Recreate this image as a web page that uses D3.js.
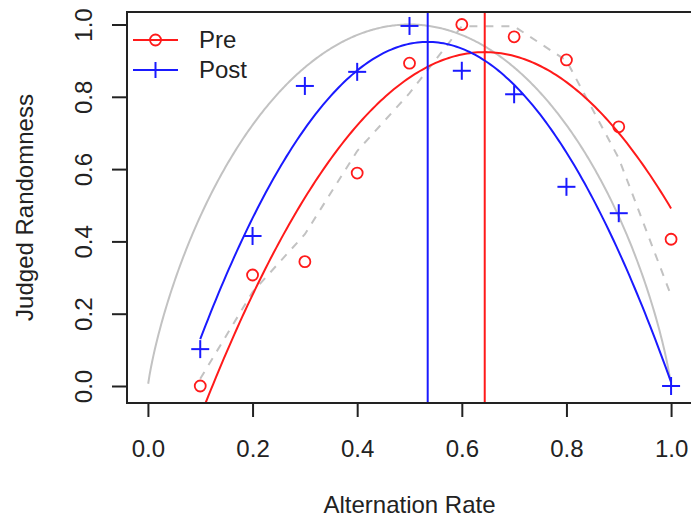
<!DOCTYPE html>
<html>
<head>
<meta charset="utf-8">
<script src="https://cdn.jsdelivr.net/npm/d3@7"></script>
<style>
  html, body { margin: 0; padding: 0; background: #fff; }
  svg { display: block; font-family: "Liberation Sans", Arial, sans-serif; }
</style>
</head>
<body>
<svg id="chart" width="691" height="518"></svg>
<script>
// ---- data ----
const alternationRates = [0.1, 0.2, 0.3, 0.4, 0.5, 0.6, 0.7, 0.8, 0.9, 1.0];
const preValues  = [0.000, 0.307, 0.344, 0.589, 0.893, 1.000, 0.966, 0.902, 0.717, 0.406];
const postValues = [0.102, 0.415, 0.830, 0.869, 0.996, 0.872, 0.807, 0.551, 0.478, 0.000];
const referenceValues = [0.02, 0.26, 0.42, 0.65, 0.81, 0.995, 0.995, 0.90, 0.63, 0.25]; // grey dashed
const xTicks = [0.0, 0.2, 0.4, 0.6, 0.8, 1.0];
const yTicks = [0.0, 0.2, 0.4, 0.6, 0.8, 1.0];
const seriesNames = ["Pre", "Post"];
const seriesColors = ["#ff1a1a", "#1a1aff"];
const xTitle = "Alternation Rate";
const yTitle = "Judged Randomness";

// ---- layout ----
const svg = d3.select("#chart");
const plot = { left: 127, right: 692, top: 12, bottom: 403 };
const x = d3.scaleLinear().domain([-0.04, 1.04]).range([plot.left, plot.right]);
const y = d3.scaleLinear().domain([0, 1]).range([386, 24.5]);
const fmt = d3.format(".1f");
const axisColor = "#222";
const fontSize = 24;

// quadratic least-squares fit
function quadFit(xs, ys) {
  const n = xs.length;
  let S = [0,0,0,0,0], T = [0,0,0];
  for (let i = 0; i < n; i++) {
    let p = 1;
    for (let k = 0; k < 5; k++) { S[k] += p; if (k < 3) T[k] += p * ys[i]; p *= xs[i]; }
  }
  const M = [[S[0],S[1],S[2],T[0]],[S[1],S[2],S[3],T[1]],[S[2],S[3],S[4],T[2]]];
  for (let c = 0; c < 3; c++) {
    for (let r = c + 1; r < 3; r++) {
      const f = M[r][c] / M[c][c];
      for (let k = c; k < 4; k++) M[r][k] -= f * M[c][k];
    }
  }
  const b = [0,0,0];
  for (let r = 2; r >= 0; r--) {
    let s = M[r][3];
    for (let k = r + 1; k < 3; k++) s -= M[r][k] * b[k];
    b[r] = s / M[r][r];
  }
  return b; // b0 + b1 x + b2 x^2
}
const fits = [quadFit(alternationRates, preValues), quadFit(alternationRates, postValues)];

svg.append("defs").append("clipPath").attr("id", "clip")
  .append("rect").attr("x", plot.left).attr("y", plot.top)
  .attr("width", plot.right - plot.left).attr("height", plot.bottom - plot.top);

const g = svg.append("g").attr("clip-path", "url(#clip)");
const line = d3.line().x(d => x(d[0])).y(d => y(d[1]));

// grey entropy curve
const ent = p => -(p * Math.log2(p) + (1 - p) * Math.log2(1 - p));
const entPts = d3.range(0.0005, 0.9996, 0.0025).map(p => [p, ent(p)]);
g.append("path").attr("d", line(entPts)).attr("fill", "none")
  .attr("stroke", "#c2c2c2").attr("stroke-width", 2);

// grey dashed reference
g.append("path").attr("d", line(alternationRates.map((v, i) => [v, referenceValues[i]])))
  .attr("fill", "none").attr("stroke", "#c2c2c2").attr("stroke-width", 2)
  .attr("stroke-dasharray", "8,8");

// fitted curves and peak lines
fits.forEach((b, s) => {
  const pts = d3.range(0.1, 1.0001, 0.005).map(v => [v, b[0] + b[1] * v + b[2] * v * v]);
  g.append("path").attr("d", line(pts)).attr("fill", "none")
    .attr("stroke", seriesColors[s]).attr("stroke-width", 2);
  const peak = -b[1] / (2 * b[2]);
  g.append("line").attr("x1", x(peak)).attr("x2", x(peak))
    .attr("y1", plot.top).attr("y2", plot.bottom)
    .attr("stroke", seriesColors[s]).attr("stroke-width", 2);
});

// points
const drawCircle = (sel, cx, cy, col) => sel.append("circle").attr("cx", cx).attr("cy", cy).attr("r", 5.5)
  .attr("fill", "none").attr("stroke", col).attr("stroke-width", 1.8);
const drawPlus = (sel, cx, cy, col, h) => {
  sel.append("line").attr("x1", cx - h).attr("x2", cx + h).attr("y1", cy).attr("y2", cy)
    .attr("stroke", col).attr("stroke-width", 2);
  sel.append("line").attr("x1", cx).attr("x2", cx).attr("y1", cy - h).attr("y2", cy + h)
    .attr("stroke", col).attr("stroke-width", 2);
};
const pg = svg.append("g");
alternationRates.forEach((v, i) => drawCircle(pg, x(v), y(preValues[i]), seriesColors[0]));
alternationRates.forEach((v, i) => drawPlus(pg, x(v), y(postValues[i]), seriesColors[1], 9));

// axes
const xAxis = svg.append("g").attr("transform", `translate(0,${plot.bottom})`)
  .call(d3.axisBottom(x).tickValues(xTicks).tickFormat(fmt).tickSize(14).tickPadding(20));
const yAxis = svg.append("g").attr("transform", `translate(${plot.left},0)`)
  .call(d3.axisLeft(y).tickValues(yTicks).tickFormat(fmt).tickSize(15));
[xAxis, yAxis].forEach(a => {
  a.select(".domain").remove();
  a.selectAll(".tick line").attr("stroke", axisColor).attr("stroke-width", 2);
  a.selectAll("text").attr("fill", axisColor).style("font-size", fontSize + "px")
    .style("font-family", '"Liberation Sans", Arial, sans-serif');
});
xAxis.selectAll("text").attr("dy", null).attr("y", 54);
yAxis.selectAll(".tick text")
  .attr("x", null).attr("dy", null).attr("text-anchor", "middle")
  .attr("transform", "translate(-35,0) rotate(-90)").attr("y", 0);

// box
svg.append("rect").attr("x", plot.left).attr("y", plot.top)
  .attr("width", plot.right - plot.left).attr("height", plot.bottom - plot.top)
  .attr("fill", "none").attr("stroke", axisColor).attr("stroke-width", 2);

// titles
svg.append("text").attr("x", (plot.left + plot.right) / 2).attr("y", 513)
  .attr("text-anchor", "middle").attr("fill", axisColor).style("font-size", fontSize + "px")
  .text(xTitle);
svg.append("text").attr("transform", `translate(33,${(plot.top + plot.bottom) / 2}) rotate(-90)`)
  .attr("text-anchor", "middle").attr("fill", axisColor).style("font-size", fontSize + "px")
  .text(yTitle);

// legend
const lg = svg.append("g");
const legY = [40, 70];
seriesNames.forEach((name, i) => {
  lg.append("line").attr("x1", 133).attr("x2", 178).attr("y1", legY[i]).attr("y2", legY[i])
    .attr("stroke", seriesColors[i]).attr("stroke-width", 2);
  if (i === 0) drawCircle(lg, 155.5, legY[i], seriesColors[i]);
  else drawPlus(lg, 155.5, legY[i], seriesColors[i], 8);
  lg.append("text").attr("x", 199).attr("y", legY[i] + 8).attr("fill", axisColor)
    .style("font-size", fontSize + "px").text(name);
});
</script>
</body>
</html>
